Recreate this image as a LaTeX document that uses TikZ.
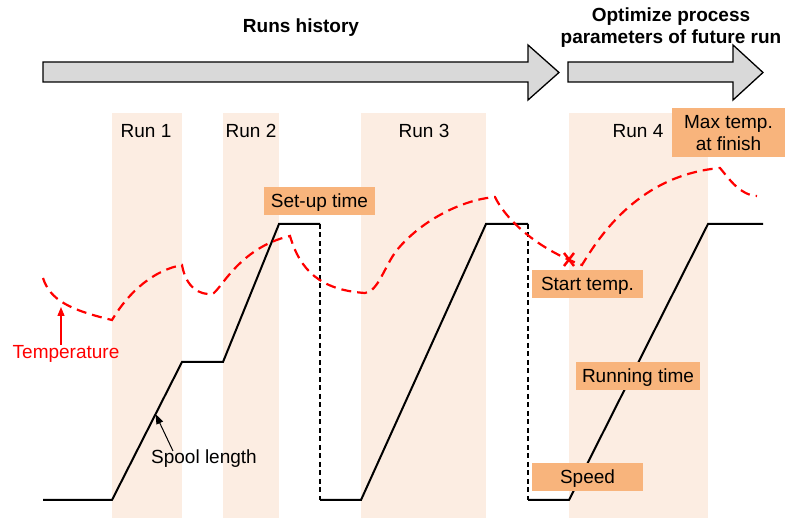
\documentclass[tikz,border=0pt]{standalone}
\usepackage{fontspec}
\setmainfont{Liberation Sans}
\usetikzlibrary{arrows.meta}
\definecolor{bandc}{HTML}{FCEDE2}
\definecolor{boxc}{HTML}{F8B47C}
\definecolor{arrowc}{HTML}{D9D9D9}
\begin{document}
\begin{tikzpicture}[x=1pt,y=-1pt,
  every node/.style={font=\fontsize{19}{22}\selectfont, inner sep=0pt},
  txt/.style={text height=13.6pt, text depth=0pt},
  twoline/.style={align=center, text height=35.6pt, text depth=0pt},
  band/.style={fill=bandc},
  lbl/.style={fill=boxc, txt, minimum height=28pt},
  spoolline/.style={line width=2pt, line join=miter},
  setupdash/.style={line width=1.8pt, dash pattern=on 5pt off 3.5pt},
  templine/.style={red, line width=2.2pt, dash pattern=on 10pt off 6pt},
  bigarrow/.style={fill=arrowc, draw=black, line width=1.3pt, line join=miter},
  hdr/.style={font=\fontsize{19}{22}\selectfont\bfseries}
]
\useasboundingbox (0,0) rectangle (785,518);

% run bands
\fill[band] (112,113) rectangle (182,518);
\fill[band] (223,113) rectangle (279,518);
\fill[band] (361,113) rectangle (486,518);
\fill[band] (569,113) rectangle (708,518);

% header arrows
\draw[bigarrow] (43,62) -- (528,62) -- (528,45) -- (559,72.5) -- (528,100) -- (528,82) -- (43,82) -- cycle;
\draw[bigarrow] (568,62) -- (733,62) -- (733,45) -- (763,72.5) -- (733,100) -- (733,82) -- (568,82) -- cycle;

\node[hdr, txt] (hist) at (301,26) {Runs history};
\node[hdr, twoline] (opt) at (671,26) {Optimize process\\parameters of future run};

% spool length line
\coordinate (s0) at (43,500);
\coordinate (s1) at (112,500);
\coordinate (s2) at (182,362);
\coordinate (s3) at (223,362);
\coordinate (s4) at (279,224);
\coordinate (s5) at (320,224);
\coordinate (s6) at (320,500);
\coordinate (s7) at (361,500);
\coordinate (s8) at (486,224);
\coordinate (s9) at (528,224);
\coordinate (s10) at (528,500);
\coordinate (s11) at (569,500);
\coordinate (s12) at (708,224);
\coordinate (s13) at (763,224);
\draw[spoolline] (s0) -- (s1) -- (s2) -- (s3) -- (s4) -- (s5);
\draw[setupdash] (s5) -- (s6);
\draw[spoolline] (s6) -- (s7) -- (s8) -- (s9);
\draw[setupdash] (s9) -- (s10);
\draw[spoolline] (s10) -- (s11) -- (s12) -- (s13);

% temperature curve
\draw[templine] (43,278) .. controls (50,300) and (70,310) .. (112,320)
  .. controls (130,290) and (155,270) .. (182,265)
  .. controls (186,288) and (200,295) .. (212,294)
  .. controls (220,292) and (238,248) .. (290,236)
  .. controls (300,270) and (320,290) .. (365,293)
  .. controls (378,292) and (385,265) .. (397,250)
  .. controls (420,222) and (460,200) .. (495,197)
  .. controls (505,218) and (535,248) .. (582,265)
  .. controls (600,235) and (640,175) .. (720,168)
  .. controls (730,180) and (740,195) .. (757,196);

% start temperature marker
\draw[red, line width=2.5pt] (564,253) -- (574,266) (574,253) -- (564,266);

% run labels
\node[txt] (run1) at (146,131) {Run 1};
\node[txt] (run2) at (251,131) {Run 2};
\node[txt] (run3) at (424,131) {Run 3};
\node[txt] (run4) at (638,131) {Run 4};

% parameter labels
\node[lbl, minimum width=111pt] (setup) at (319.5,201) {Set-up time};
\node[lbl, minimum width=111pt] (starttemp) at (587.5,284) {Start temp.};
\node[lbl, minimum width=124pt] (runtime) at (638,376) {Running time};
\node[lbl, minimum width=111pt] (speed) at (587.5,477) {Speed};
\node[fill=boxc, twoline, minimum width=113pt, minimum height=49pt] (maxtemp) at (728.5,132.5) {Max temp.\\at finish};

% curve labels
\node[txt, text=red] (templbl) at (66,352) {Temperature};
\coordinate (temptip) at (61,307);
\draw[red, line width=1.3pt, -{Triangle[length=9pt,width=7pt]}] (templbl.north -| temptip) -- (temptip);

\node[txt] (spoollbl) at (204,457) {Spool length};
\coordinate (spooltip) at (155.5,414);
\draw[line width=1pt, -{Triangle[length=10pt,width=7pt]}] ([xshift=-31pt,yshift=-1pt]spoollbl.north) -- (spooltip);
\end{tikzpicture}
\end{document}
